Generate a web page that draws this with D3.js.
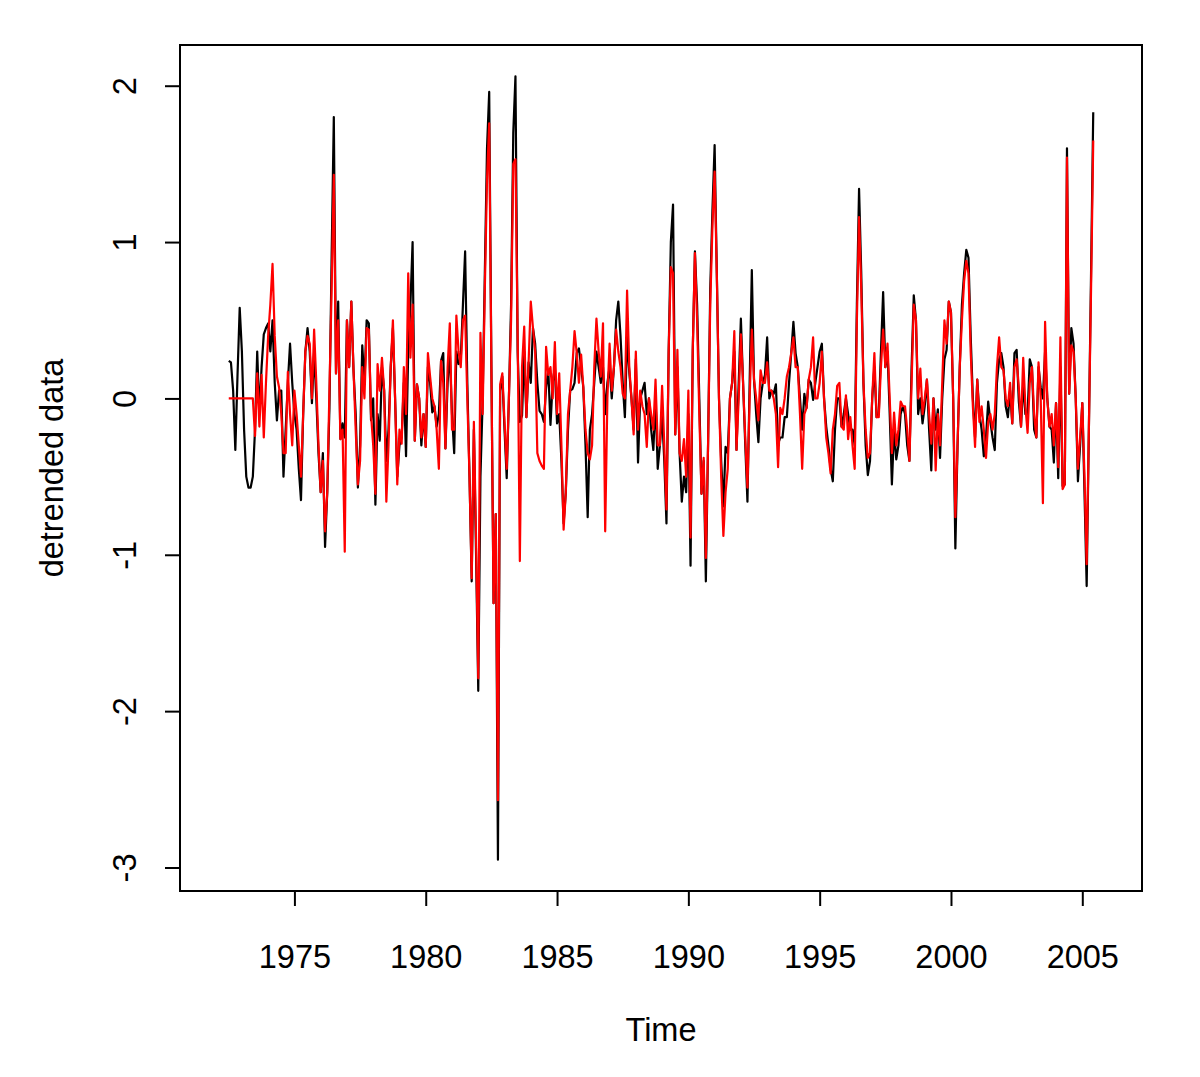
<!DOCTYPE html>
<html>
<head>
<meta charset="utf-8">
<script src="https://cdn.jsdelivr.net/npm/d3@7"></script>
<style>
  body { margin: 0; background: #fff; }
  svg text { font-family: "Liberation Sans", Arial, Helvetica, sans-serif; fill: #000; }
</style>
</head>
<body>
<div id="chart"></div>
<script>
// monthly series, first visible month Jul 1972 (series itself runs 1972 - 2005, ends are NA)
var seriesStart = 1972;
var seriesEnd = 2005 + 11 / 12;
var firstMonth = 1972.5;

var detrended = [
    0.24, 0.23, 0.05, -0.33, 0.15, 0.58, 0.3, -0.2, -0.5, -0.57, -0.57, -0.5,
    -0.2, 0.3, -0.1, 0.2, 0.41, 0.45, 0.48, 0.3, 0.5, 0.1, -0.14, 0.05,
    0.05, -0.5, -0.2, 0.1, 0.35, 0.1, -0.1, -0.2, -0.45, -0.65, -0.1, 0.3,
    0.45, 0.3, -0.03, 0.3, 0.0, -0.35, -0.6, -0.35, -0.95, -0.6, -0.06, 0.9,
    1.8, 0.16, 0.62, -0.26, -0.16, -0.25, 0.5, 0.2, 0.62, 0.18, -0.1, -0.57,
    -0.3, 0.34, 0.1, 0.5, 0.48, -0.14, 0.0, -0.68, -0.1, -0.27, 0.2, 0.05,
    -0.4, -0.2, 0.2, 0.45, 0.0, -0.5, -0.3, -0.25, 0.1, -0.37, 0.3, 0.6,
    1.0, -0.27, 0.09, 0.0, -0.3, -0.1, -0.31, 0.2, 0.1, -0.09, -0.05, -0.18,
    -0.1, 0.24, 0.29, -0.32, 0.1, 0.3, -0.1, -0.35, 0.3, 0.22, 0.25, 0.6,
    0.94, 0.1, -0.5, -1.17, -0.2, -1.0, -1.87, -0.5, -0.02, 0.8, 1.6, 1.96,
    0.2, -1.31, -0.74, -2.95, 0.05, 0.14, -0.2, -0.51, 0.0, 0.6, 1.7, 2.06,
    0.3, -0.15, -0.11, 0.3, -0.12, 0.23, 0.1, 0.45, 0.35, 0.1, -0.08, -0.1,
    -0.15, 0.07, 0.18, -0.17, 0.1, 0.2, -0.16, -0.1, -0.4, -0.8, -0.6, -0.2,
    0.05, 0.06, 0.1, 0.29, 0.32, 0.2, 0.07, -0.3, -0.76, -0.2, -0.1, 0.1,
    0.3, 0.2, 0.1, 0.2, -0.1, 0.1, 0.2, 0.0, 0.2, 0.5, 0.62, 0.4,
    0.1, -0.12, 0.4, 0.17, 0.0, -0.2, 0.25, -0.41, 0.0, 0.05, 0.1, -0.1,
    0.0, -0.2, -0.33, 0.0, -0.45, -0.3, -0.1, -0.4, -0.8, 0.3, 1.0, 1.24,
    -0.23, 0.2, -0.35, -0.66, -0.5, -0.6, -0.1, -1.07, 0.3, 0.94, 0.6, 0.0,
    -0.61, -0.4, -1.17, -0.3, 0.7, 1.2, 1.62, 0.8, 0.0, -0.4, -0.69, -0.31,
    -0.35, 0.0, 0.1, 0.3, -0.33, 0.1, 0.51, 0.1, -0.3, -0.66, 0.1, 0.82,
    0.12, -0.1, -0.28, 0.0, 0.1, 0.15, 0.39, 0.0, 0.05, 0.03, 0.09, -0.29,
    -0.25, -0.25, -0.12, -0.12, 0.1, 0.29, 0.49, 0.29, 0.2, 0.0, -0.2, 0.03,
    -0.06, 0.12, 0.1, -0.01, 0.1, 0.2, 0.3, 0.35, 0.0, -0.18, -0.3, -0.45,
    -0.53, -0.2, 0.0, 0.0, -0.18, -0.1, 0.0, -0.1, -0.2, -0.2, -0.3, 0.6,
    1.34, 0.8, 0.1, -0.3, -0.49, -0.4, 0.0, 0.2, -0.12, -0.1, 0.3, 0.68,
    0.2, 0.3, -0.1, -0.55, -0.2, -0.39, -0.3, -0.1, -0.05, -0.1, -0.3, -0.4,
    0.2, 0.66, 0.5, -0.1, 0.0, -0.16, -0.05, 0.12, -0.2, -0.46, 0.0, -0.2,
    -0.07, -0.38, 0.0, 0.25, 0.31, 0.62, 0.55, 0.0, -0.96, -0.3, 0.2, 0.6,
    0.8, 0.95, 0.9, 0.4, 0.0, -0.25, 0.12, -0.1, -0.2, -0.37, -0.25, -0.02,
    -0.15, -0.25, -0.33, 0.1, 0.25, 0.29, 0.2, -0.05, -0.12, 0.05, -0.16, 0.29,
    0.31, -0.02, -0.18, 0.1, -0.1, -0.1, 0.25, 0.2, -0.2, -0.25, 0.2, 0.07,
    0.0, 0.3, 0.0, -0.18, -0.2, -0.41, -0.03, -0.51, 0.2, -0.56, -0.55, 1.6,
    0.03, 0.45, 0.35, 0.0, -0.53, -0.3, -0.03, -0.6, -1.2, -0.2, 0.8, 1.83
];

var fitted = [
    0, 0, 0, 0, 0, 0, 0, 0, 0, 0, 0, 0,
    -0.24, 0.16, -0.18, 0.15, -0.25, 0.1, 0.4, 0.6, 0.86, 0.4, 0.14, 0.07,
    -0.1, -0.35, -0.35, 0.17, -0.1, -0.3, 0.05, -0.1, -0.3, -0.5, -0.1, 0.3,
    0.4, 0.35, 0.0, 0.44, 0.1, -0.3, -0.6, -0.4, -0.85, -0.6, 0.05, 0.7,
    1.43, 0.16, 0.5, -0.26, -0.2, -0.98, 0.5, 0.2, 0.62, 0.18, -0.2, -0.55,
    -0.4, 0.2, 0.0, 0.45, 0.44, -0.1, -0.3, -0.61, 0.22, 0.05, 0.26, 0.05,
    -0.66, -0.3, 0.2, 0.5, 0.0, -0.55, -0.2, -0.29, 0.2, -0.1, 0.8, 0.26,
    0.6, -0.27, 0.09, 0.0, -0.25, -0.1, -0.31, 0.29, 0.14, 0.0, -0.05, -0.2,
    -0.45, 0.24, 0.1, -0.32, 0.2, 0.48, -0.2, -0.2, 0.53, 0.3, 0.2, 0.5,
    0.53, 0.0, -0.5, -1.15, -0.15, -0.9, -1.79, 0.42, -0.1, 0.7, 1.4, 1.76,
    0.2, -1.31, -0.74, -2.57, 0.09, 0.16, -0.15, -0.45, 0.0, 0.5, 1.5, 1.53,
    0.4, -1.04, 0.2, 0.46, -0.12, 0.23, 0.62, 0.45, 0.3, -0.35, -0.4, -0.43,
    -0.45, 0.33, 0.15, 0.2, 0.0, 0.36, -0.1, 0.16, -0.3, -0.84, -0.6, -0.1,
    0.05, 0.2, 0.43, 0.29, 0.1, 0.28, 0.07, -0.2, -0.35, -0.39, -0.3, 0.2,
    0.51, 0.3, 0.14, 0.48, -0.85, 0.0, 0.35, 0.05, 0.2, 0.44, 0.3, 0.2,
    0.03, 0.0, 0.69, 0.2, 0.0, -0.23, 0.3, -0.2, 0.05, -0.05, -0.1, -0.31,
    0.0, -0.1, -0.2, 0.12, -0.3, -0.3, 0.08, -0.3, -0.71, 0.3, 0.84, 0.8,
    -0.23, 0.31, -0.35, -0.4, -0.26, -0.5, 0.05, -0.89, 0.3, 0.93, 0.5, -0.1,
    -0.61, -0.38, -1.02, -0.3, 0.6, 1.1, 1.45, 0.8, 0.0, -0.5, -0.88, -0.6,
    -0.45, 0.0, 0.1, 0.43, -0.33, 0.0, 0.41, 0.1, -0.25, -0.57, 0.0, 0.44,
    0.12, 0.0, -0.14, 0.18, 0.1, 0.1, 0.23, 0.05, 0.05, 0.0, -0.1, -0.44,
    -0.06, -0.1, 0.0, 0.14, 0.2, 0.29, 0.39, 0.2, 0.2, -0.1, -0.45, -0.1,
    -0.06, 0.12, 0.2, 0.39, 0.0, 0.0, 0.1, 0.3, 0.0, -0.25, -0.35, -0.48,
    -0.2, -0.1, 0.08, 0.1, -0.18, -0.2, 0.02, -0.26, -0.12, -0.3, -0.45, 0.5,
    1.16, 0.7, 0.1, -0.2, -0.38, -0.35, 0.0, 0.29, -0.12, -0.12, 0.2, 0.44,
    0.2, 0.35, 0.0, -0.35, -0.09, -0.3, -0.2, -0.02, -0.05, -0.05, -0.2, -0.4,
    0.1, 0.6, 0.5, 0.0, 0.19, -0.1, 0.0, 0.12, -0.1, -0.29, 0.0, -0.46,
    -0.1, -0.3, 0.1, 0.5, 0.35, 0.62, 0.55, 0.0, -0.76, -0.3, 0.2, 0.5,
    0.75, 0.88, 0.8, 0.3, -0.05, -0.31, 0.12, -0.15, -0.05, -0.2, -0.38, -0.15,
    -0.1, -0.2, -0.1, 0.2, 0.39, 0.2, 0.18, 0.0, -0.05, 0.1, -0.16, 0.2,
    0.25, 0.07, -0.18, 0.26, -0.05, -0.22, 0.1, 0.2, -0.1, -0.25, 0.23, 0.0,
    -0.67, 0.49, 0.0, -0.18, -0.1, -0.3, -0.03, -0.44, 0.39, -0.58, -0.55, 1.54,
    0.03, 0.34, 0.3, 0.0, -0.45, -0.25, -0.03, -0.5, -1.06, -0.2, 0.7, 1.65
];

var xTicks = [1975, 1980, 1985, 1990, 1995, 2000, 2005];
var yTicks = [-3, -2, -1, 0, 1, 2];
var xTitle = "Time";
var yTitle = "detrended data";

function drawChart() {
    var width = 1200, height = 1077;
    var plot = { left: 180, right: 1142, top: 45, bottom: 891 };
    var fontSize = 32.5;

    var svg = d3.select("#chart").append("svg")
        .attr("width", width)
        .attr("height", height);

    // R style ranges: data range padded 4% on each side
    var xPad = (seriesEnd - seriesStart) * 0.04;
    var x = d3.scaleLinear()
        .domain([seriesStart - xPad, seriesEnd + xPad])
        .range([plot.left, plot.right]);

    var yExt = d3.extent(detrended.concat(fitted));
    var yPad = (yExt[1] - yExt[0]) * 0.04;
    var y = d3.scaleLinear()
        .domain([yExt[0] - yPad, yExt[1] + yPad])
        .range([plot.bottom, plot.top]);

    var line = d3.line()
        .x(function (d, i) { return x(firstMonth + i / 12); })
        .y(function (d) { return y(d); });

    //Black series then red on top
    svg.append("path")
        .datum(detrended)
        .attr("d", line)
        .attr("fill", "none")
        .attr("stroke", "black")
        .attr("stroke-width", 2.2)
        .attr("stroke-linejoin", "round");

    svg.append("path")
        .datum(fitted)
        .attr("d", line)
        .attr("fill", "none")
        .attr("stroke", "#ff0000")
        .attr("stroke-width", 2.2)
        .attr("stroke-linejoin", "round");

    //Box
    svg.append("rect")
        .attr("x", plot.left)
        .attr("y", plot.top)
        .attr("width", plot.right - plot.left)
        .attr("height", plot.bottom - plot.top)
        .attr("fill", "none")
        .attr("stroke", "black")
        .attr("stroke-width", 2);

    //X axis
    var xAxis = svg.append("g")
        .attr("transform", "translate(0," + plot.bottom + ")")
        .call(d3.axisBottom(x).tickValues(xTicks).tickSize(15).tickPadding(0).tickFormat(String));
    xAxis.select(".domain").remove();
    xAxis.selectAll("line").attr("stroke", "black").attr("stroke-width", 2);
    xAxis.selectAll("text")
        .attr("y", 66)
        .attr("dy", "0.35em")
        .style("font-size", fontSize + "px");

    //Y axis, labels turned like R's las=0 (plain hyphen as minus)
    var yAxis = svg.append("g")
        .attr("transform", "translate(" + plot.left + ",0)")
        .call(d3.axisLeft(y).tickValues(yTicks).tickSize(15).tickFormat(String));
    yAxis.select(".domain").remove();
    yAxis.selectAll("line").attr("stroke", "black").attr("stroke-width", 2);
    yAxis.selectAll("text")
        .attr("x", null)
        .attr("dy", null)
        .attr("text-anchor", "middle")
        .attr("dominant-baseline", "central")
        .attr("transform", "translate(-55,0) rotate(-90)")
        .style("font-size", fontSize + "px");

    //Axis titles
    svg.append("text")
        .attr("x", (plot.left + plot.right) / 2)
        .attr("y", 1030)
        .attr("text-anchor", "middle")
        .attr("dominant-baseline", "central")
        .style("font-size", fontSize + "px")
        .text(xTitle);

    svg.append("text")
        .attr("transform", "translate(52," + (plot.top + plot.bottom) / 2 + ") rotate(-90)")
        .attr("text-anchor", "middle")
        .attr("dominant-baseline", "central")
        .style("font-size", fontSize + "px")
        .text(yTitle);
}

drawChart();
</script>
</body>
</html>
